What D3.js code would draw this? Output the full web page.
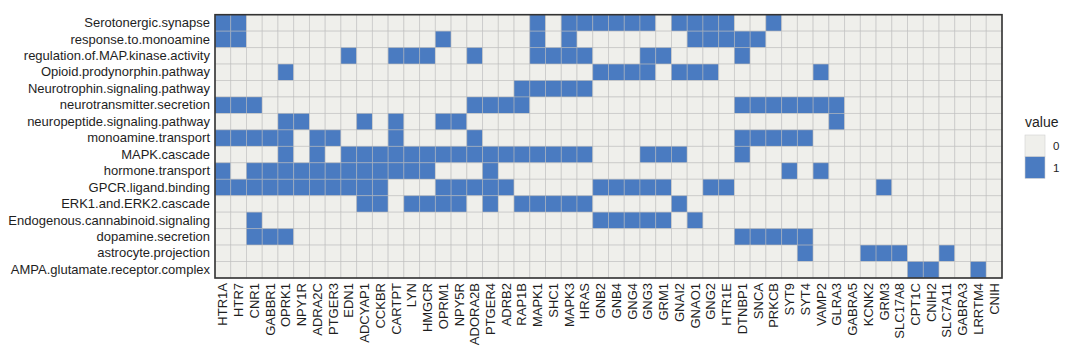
<!DOCTYPE html>
<html><head><meta charset="utf-8">
<script src="https://cdn.jsdelivr.net/npm/d3@7"></script>
<style>body{margin:0;background:#fff;} text{font-family:"Liberation Sans",Arial,sans-serif;}</style>
</head><body><svg id="c" width="1080" height="360"></svg>
<script>
const genes = ["HTR1A","HTR7","CNR1","GABBR1","OPRK1","NPY1R","ADRA2C","PTGER3","EDN1","ADCYAP1","CCKBR","CARTPT","LYN","HMGCR","OPRM1","NPY5R","ADORA2B","PTGER4","ADRB2","RAP1B","MAPK1","SHC1","MAPK3","HRAS","GNB2","GNB4","GNG4","GNG3","GRM1","GNAI2","GNAO1","GNG2","HTR1E","DTNBP1","SNCA","PRKCB","SYT9","SYT4","VAMP2","GLRA3","GABRA5","KCNK2","GRM3","SLC17A8","CPT1C","CNIH2","SLC7A11","GABRA3","LRRTM4","CNIH"];
const pathways = ["Serotonergic.synapse","response.to.monoamine","regulation.of.MAP.kinase.activity","Opioid.prodynorphin.pathway","Neurotrophin.signaling.pathway","neurotransmitter.secretion","neuropeptide.signaling.pathway","monoamine.transport","MAPK.cascade","hormone.transport","GPCR.ligand.binding","ERK1.and.ERK2.cascade","Endogenous.cannabinoid.signaling","dopamine.secretion","astrocyte.projection","AMPA.glutamate.receptor.complex"];
// value = 1 for the genes listed in each pathway, 0 otherwise
const serotonergic = ["HTR1A","HTR7","MAPK1","MAPK3","HRAS","GNB2","GNB4","GNG4","GNG3","GNAI2","GNAO1","GNG2","HTR1E","PRKCB"];
const responseMonoamine = ["HTR1A","HTR7","OPRM1","MAPK1","MAPK3","GNAO1","GNG2","HTR1E","DTNBP1","SNCA"];
const regulationMAPK = ["EDN1","CARTPT","LYN","HMGCR","ADORA2B","MAPK1","SHC1","MAPK3","HRAS","GNG3","GRM1","DTNBP1"];
const opioid = ["OPRK1","GNB2","GNB4","GNG4","GNG3","GNAI2","GNAO1","GNG2","VAMP2"];
const neurotrophin = ["RAP1B","MAPK1","SHC1","MAPK3","HRAS"];
const neurotransmitter = ["HTR1A","HTR7","CNR1","ADORA2B","PTGER4","ADRB2","RAP1B","DTNBP1","SNCA","PRKCB","SYT9","SYT4","VAMP2","GLRA3"];
const neuropeptide = ["OPRK1","NPY1R","ADCYAP1","CARTPT","OPRM1","NPY5R","GLRA3"];
const monoamineTransport = ["HTR1A","HTR7","CNR1","GABBR1","OPRK1","ADRA2C","PTGER3","CARTPT","ADORA2B","DTNBP1","SNCA","PRKCB","SYT9","SYT4"];
const mapkCascade = ["OPRK1","ADRA2C","EDN1","ADCYAP1","CCKBR","CARTPT","LYN","HMGCR","OPRM1","NPY5R","ADORA2B","PTGER4","ADRB2","RAP1B","MAPK1","SHC1","MAPK3","HRAS","GNG3","GRM1","GNAI2","DTNBP1"];
const hormoneTransport = ["HTR1A","CNR1","GABBR1","OPRK1","NPY1R","ADRA2C","PTGER3","EDN1","ADCYAP1","CCKBR","CARTPT","LYN","HMGCR","PTGER4","SYT9","VAMP2"];
const gpcr = ["HTR1A","HTR7","CNR1","GABBR1","OPRK1","NPY1R","ADRA2C","PTGER3","EDN1","ADCYAP1","CCKBR","OPRM1","NPY5R","ADORA2B","PTGER4","ADRB2","GNB2","GNB4","GNG4","GNG3","GRM1","GNG2","HTR1E","GRM3"];
const erk = ["ADCYAP1","CCKBR","LYN","HMGCR","OPRM1","NPY5R","PTGER4","RAP1B","MAPK1","SHC1","MAPK3","HRAS","GNAI2"];
const endocannabinoid = ["CNR1","GNB2","GNB4","GNG4","GNG3","GRM1","GNAO1"];
const dopamine = ["CNR1","GABBR1","OPRK1","DTNBP1","SNCA","PRKCB","SYT9","SYT4"];
const astrocyte = ["SYT4","KCNK2","GRM3","SLC17A8","SLC7A11"];
const ampa = ["CPT1C","CNIH2","LRRTM4"];
const members = [serotonergic,responseMonoamine,regulationMAPK,opioid,neurotrophin,neurotransmitter,neuropeptide,monoamineTransport,mapkCascade,hormoneTransport,gpcr,erk,endocannabinoid,dopamine,astrocyte,ampa];
const legendValues = ["0","1"];

const cells = [];
pathways.forEach((p,i)=>genes.forEach(g=>cells.push({p,g,v: members[i].includes(g)?1:0})));

const svg = d3.select("#c");
const L=215, R=1002, T=14.7, B=278;
const x = d3.scaleBand().domain(genes).range([L,R]).padding(0);
const y = d3.scaleBand().domain(pathways).range([T,B]).padding(0);
const color = d3.scaleOrdinal().domain([0,1]).range(["#EFEFEB","#4A7BC1"]);

svg.append("g").selectAll("rect").data(cells).join("rect")
  .attr("x",d=>x(d.g)).attr("y",d=>y(d.p))
  .attr("width",x.bandwidth()).attr("height",y.bandwidth())
  .attr("fill",d=>color(d.v))
  .attr("stroke","#b8b8b8").attr("stroke-opacity",0.55).attr("stroke-width",0.9);

svg.append("rect").attr("x",L).attr("y",T).attr("width",R-L).attr("height",B-T)
  .attr("fill","none").attr("stroke","#333").attr("stroke-width",1.6);

const xa = svg.append("g").attr("transform",`translate(0,${B})`)
  .call(d3.axisBottom(x).tickSize(0).tickPadding(0));
xa.select(".domain").remove();
xa.selectAll("text").attr("transform","rotate(-90)").attr("x",-5).attr("y",0).attr("dy","0.35em")
  .attr("text-anchor","end").attr("fill","#1e1e1e").style("font-size","13px").style("font-family","Liberation Sans, Arial, sans-serif");

const ya = svg.append("g").attr("transform",`translate(${L},0)`)
  .call(d3.axisLeft(y).tickSize(0).tickPadding(5));
ya.select(".domain").remove();
ya.selectAll("text").attr("fill","#1e1e1e").style("font-size","13px").style("font-family","Liberation Sans, Arial, sans-serif");

const lg = svg.append("g");
lg.append("text").attr("x",1025).attr("y",127).text("value").attr("fill","#1e1e1e").style("font-size","14px");
legendValues.forEach((v,i)=>{
  lg.append("rect").attr("x",1025).attr("y",135+i*21.7).attr("width",20).attr("height",21.7)
    .attr("fill",color(+v)).attr("stroke","#d0d0d0").attr("stroke-width",0.6);
  lg.append("text").attr("x",1053).attr("y",135+i*21.7+10.85).attr("dy","0.35em").text(v)
    .attr("fill","#1e1e1e").style("font-size","11.5px");
});
</script></body></html>
